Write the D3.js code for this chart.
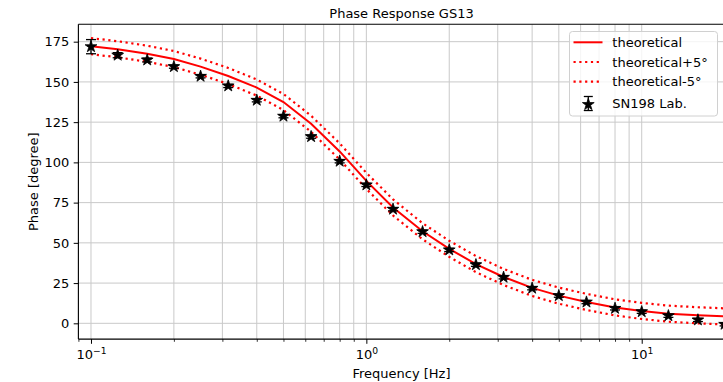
<!DOCTYPE html>
<html><head><meta charset="utf-8">
<script src="https://cdn.jsdelivr.net/npm/d3@7"></script>
<style>body{margin:0;background:#fff;overflow:hidden} text{font-family:"DejaVu Sans",sans-serif;fill:#000}</style>
</head><body><svg id="c" width="723" height="382"></svg>
<script>
// ---- data ----
const freqs = [0.1,0.125,0.16,0.2,0.25,0.315,0.4,0.5,0.63,0.8,1.0,1.25,1.6,2.0,2.5,3.15,4.0,5.0,6.3,8.0,10,12.5,16,20];
const theoretical = [172.2,170.3,167.5,164.2,159.5,153.7,146.5,137.5,124.0,106.8,88.5,72.0,57.2,46.3,36.8,28.8,22.0,17.2,13.3,9.9,7.7,6.0,5.0,4.3];
const theoPlus5  = [177.2,175.3,172.5,169.2,164.5,158.7,151.5,142.5,129.0,111.8,93.5,77.0,62.2,51.3,41.8,33.8,27.0,22.2,18.3,14.9,12.7,11.0,10.0,9.3];
const theoMinus5 = [167.2,165.3,162.5,159.2,154.5,148.7,141.5,132.5,119.0,101.8,83.5,67.0,52.2,41.3,31.8,23.8,17.0,12.2,8.3,4.9,2.7,1.0,0.0,-0.7];
const measured = [171.9,166.6,163.6,159.5,153.5,147.5,138.6,128.7,116.0,100.7,86.0,70.9,56.9,45.6,36.4,28.6,21.8,17.2,13.2,9.3,7.2,4.7,2.1,-0.6];
const errors   = [4.4,1.6,1.2,1.0,1.0,1.0,1.0,1.0,1.0,1.0,1.0,1.0,1.0,1.0,1.0,1.0,1.0,1.0,1.0,1.0,1.0,1.0,1.0,1.0];
const xTicks = [0.1, 1, 10];
const xTickExp = ["\u22121", "0", "1"];
const yTicks = [0,25,50,75,100,125,150,175];
const legendLabels = ["theoretical","theoretical+5\u00b0","theoretical-5\u00b0","SN198 Lab."];
const titleText = "Phase Response GS13";
const xLabel = "Frequency [Hz]";
const yLabel = "Phase [degree]";

// ---- layout ----
const L = 78.4, R = 724.6, T = 24.3, B = 339.1;
const svg = d3.select("#c");
const x = d3.scaleLog().domain([0.09, 20]).range([L, R]);
const y = d3.scaleLinear().domain([-9.8, 185.8]).range([B, T]);

// minor tick values
const minor = [];
for (const dec of [0.01,0.1,1,10]) for (let k=2;k<=9;k++){ const v=k*dec; if (v>=0.09 && v<=20) minor.push(v); }

// grid
const grid = svg.append("g").attr("stroke","#c9c9c9").attr("stroke-width",1);
grid.selectAll(".gx").data(xTicks.concat(minor)).join("line")
  .attr("x1",d=>x(d)).attr("x2",d=>x(d)).attr("y1",T).attr("y2",B);
grid.selectAll(".gy").data(yTicks).join("line")
  .attr("x1",L).attr("x2",R).attr("y1",d=>y(d)).attr("y2",d=>y(d));

// lines
const pts = arr => freqs.map((f,i)=>[f,arr[i]]);
const line = d3.line().x(d=>x(d[0])).y(d=>y(d[1]));
const plotG = svg.append("g");
plotG.append("path").attr("d",line(pts(theoretical))).attr("fill","none").attr("stroke","#ff0000").attr("stroke-width",2);
plotG.append("path").attr("d",line(pts(theoPlus5))).attr("fill","none").attr("stroke","#ff0000").attr("stroke-width",2.2).attr("stroke-dasharray","2.2,3.6");
plotG.append("path").attr("d",line(pts(theoMinus5))).attr("fill","none").attr("stroke","#ff0000").attr("stroke-width",2.2).attr("stroke-dasharray","2.2,3.6");

// error bars + stars
const star = d3.symbol().type(d3.symbolStar).size(6.2*6.2/0.8908130915);
const eb = plotG.append("g").attr("stroke","#000").attr("stroke-width",1.3);
freqs.forEach((f,i)=>{
  const cx = x(f), y1 = y(measured[i]-errors[i]), y2 = y(measured[i]+errors[i]);
  eb.append("line").attr("x1",cx).attr("x2",cx).attr("y1",y1).attr("y2",y2);
  eb.append("line").attr("x1",cx-5).attr("x2",cx+5).attr("y1",y1).attr("y2",y1);
  eb.append("line").attr("x1",cx-5).attr("x2",cx+5).attr("y1",y2).attr("y2",y2);
});
plotG.selectAll(".star").data(freqs).join("path")
  .attr("d",star).attr("transform",(d,i)=>`translate(${x(d)},${y(measured[i])})`)
  .attr("fill","#000").attr("stroke","#000").attr("stroke-width",0.8);

// axes
const ax = svg.append("g").attr("transform",`translate(0,${B})`)
  .call(d3.axisBottom(x).tickValues(xTicks).tickSize(4.7).tickFormat(""));
ax.select(".domain").remove();
ax.selectAll(".tick line").attr("stroke","#000").attr("stroke-width",1);
ax.selectAll(".tick").append("text").attr("y",20).attr("text-anchor","middle").attr("font-size",13)
  .each(function(d,i){
    const t = d3.select(this);
    t.append("tspan").text("10");
    t.append("tspan").attr("font-size",9.2).attr("dy",-5.5).text(xTickExp[i]);
  });
const axm = svg.append("g").attr("transform",`translate(0,${B})`)
  .call(d3.axisBottom(x).tickValues(minor).tickSize(2.7).tickFormat(""));
axm.select(".domain").remove();
axm.selectAll(".tick line").attr("stroke","#000").attr("stroke-width",0.8);

const ay = svg.append("g").attr("transform",`translate(${L},0)`)
  .call(d3.axisLeft(y).tickValues(yTicks).tickSize(4.7).tickPadding(4.5));
ay.select(".domain").remove();
ay.selectAll(".tick line").attr("stroke","#000").attr("stroke-width",1);
ay.selectAll(".tick text").attr("font-size",13).attr("font-family","DejaVu Sans").attr("fill","#000");

// spines
const sp = svg.append("g").attr("stroke","#000").attr("stroke-width",1.1).attr("fill","none");
sp.append("line").attr("x1",L).attr("x2",L).attr("y1",T).attr("y2",B);
sp.append("line").attr("x1",L).attr("x2",R).attr("y1",B).attr("y2",B);
sp.append("line").attr("x1",L).attr("x2",R).attr("y1",T).attr("y2",T);
sp.append("line").attr("x1",R).attr("x2",R).attr("y1",T).attr("y2",B);

// titles
svg.append("text").attr("x",(L+R)/2).attr("y",18).attr("text-anchor","middle").attr("font-size",13).text(titleText);
svg.append("text").attr("x",(L+R)/2).attr("y",378).attr("text-anchor","middle").attr("font-size",13).text(xLabel);
svg.append("text").attr("transform",`translate(38,${(T+B)/2}) rotate(-90)`).attr("text-anchor","middle").attr("font-size",13).text(yLabel);

// legend
const lg = svg.append("g");
lg.append("rect").attr("x",569.5).attr("y",31.5).attr("width",148).attr("height",84.5).attr("rx",3)
  .attr("fill","#fff").attr("fill-opacity",0.8).attr("stroke","#d0d0d0").attr("stroke-width",1);
const rows = [42.3, 62, 81.7, 103.5];
lg.append("line").attr("x1",573.5).attr("x2",602.5).attr("y1",rows[0]).attr("y2",rows[0]).attr("stroke","#ff0000").attr("stroke-width",2);
[1,2].forEach(i=>lg.append("line").attr("x1",573.5).attr("x2",602.5).attr("y1",rows[i]).attr("y2",rows[i])
  .attr("stroke","#ff0000").attr("stroke-width",2.2).attr("stroke-dasharray","2.2,3.6"));
const lx = 588.3;
lg.append("line").attr("x1",lx).attr("x2",lx).attr("y1",rows[3]-7).attr("y2",rows[3]+7).attr("stroke","#000").attr("stroke-width",1.3);
[rows[3]-7, rows[3]+7].forEach(yy=>lg.append("line").attr("x1",lx-4.5).attr("x2",lx+4.5).attr("y1",yy).attr("y2",yy).attr("stroke","#000").attr("stroke-width",1.3));
lg.append("path").attr("d",star).attr("transform",`translate(${lx},${rows[3]+1})`).attr("fill","#000").attr("stroke","#000").attr("stroke-width",0.8);
lg.selectAll(".lt").data(legendLabels).join("text").attr("x",612.3).attr("y",(d,i)=>rows[i]+4.7)
  .attr("font-size",13).text(d=>d);
</script></body></html>
